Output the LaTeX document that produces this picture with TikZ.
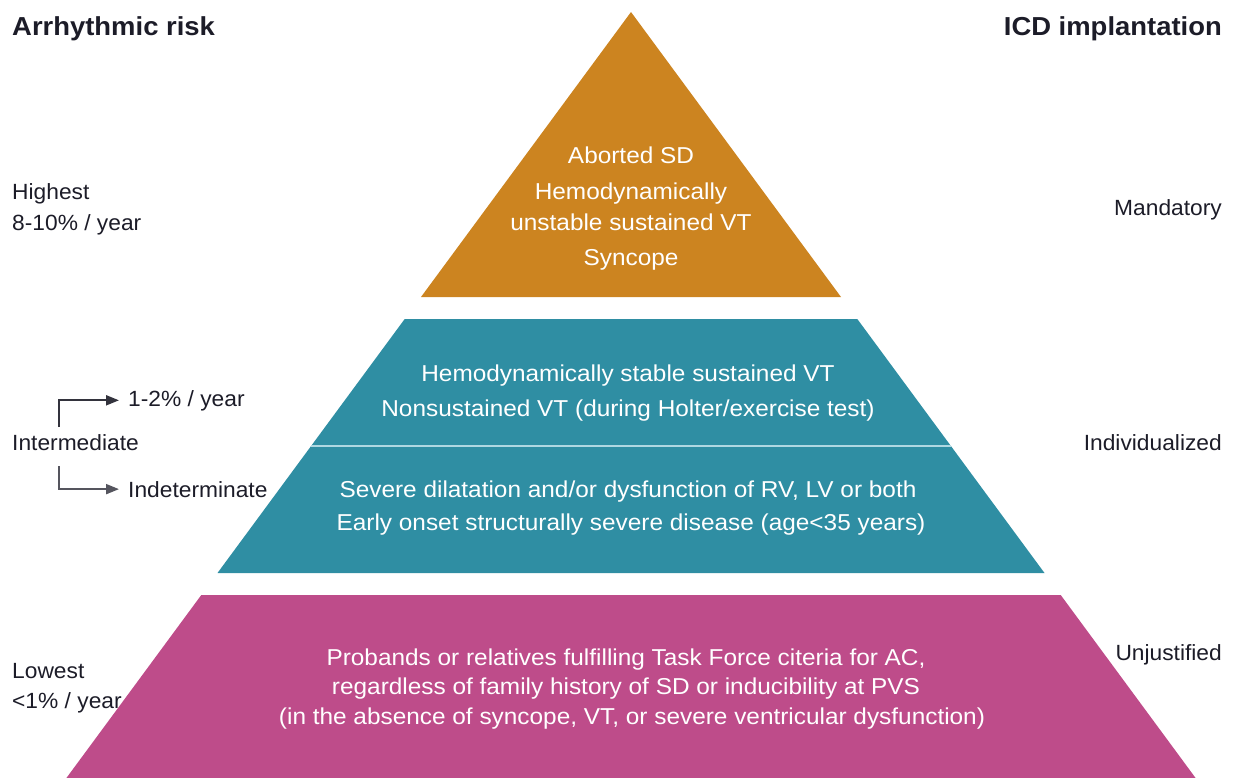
\documentclass[tikz,border=0pt]{standalone}
\usepackage{fontspec}
\setmainfont{Liberation Sans}
\newfontfamily\insidefont[FakeStretch=1.06]{Liberation Sans}
\newfontfamily\labfont[FakeStretch=1.035]{Liberation Sans}
\newfontfamily\headfont[FakeStretch=1.055]{Liberation Sans}
\usetikzlibrary{arrows.meta}
\definecolor{orangeT}{RGB}{204,132,32}
\definecolor{tealT}{RGB}{47,142,163}
\definecolor{magT}{RGB}{190,76,138}
\definecolor{divT}{RGB}{175,216,226}
\definecolor{txt}{RGB}{28,28,40}
\begin{document}
\begin{tikzpicture}[x=1pt,y=-1pt,
  lab/.style={font=\labfont\fontsize{22}{26}\selectfont, text=txt, inner sep=0pt, anchor=base west},
  labr/.style={font=\labfont\fontsize{22}{26}\selectfont, text=txt, inner sep=0pt, anchor=base east},
  head/.style={font=\headfont\fontsize{26}{30}\selectfont\bfseries, text=txt, inner sep=0pt},
  inside/.style={font=\insidefont\fontsize{23}{27}\selectfont, text=white, inner sep=0pt, anchor=base},
  conn/.style={draw=txt!90, line width=2pt, -{Triangle[length=13pt,width=10pt]}, shorten >=9pt}]
\useasboundingbox (0,0) rectangle (1233,778);
\begin{scope}
\clip (0,0) rectangle (1233,778);
% pyramid tiers
\fill[orangeT] (631,12) -- (841,297) -- (421,297) -- cycle;
\fill[tealT] (404.7,319) -- (857.3,319) -- (1044.5,573) -- (217.5,573) -- cycle;
\draw[divT, line width=2.2pt] (311.1,446) -- (950.9,446);
\fill[magT] (201.3,595) -- (1060.7,595) -- (1200,784) -- (62,784) -- cycle;
\end{scope}
% headings
\node[head, anchor=base west] (hrisk) at (12,36) {Arrhythmic risk};
\node[head, anchor=base east] (hicd) at (1222,36) {ICD implantation};
% left labels
\node[lab] (high1) at (12,200) {Highest};
\node[lab] (high2) at (12,230) {8-10\% / year};
\node[lab] (r12) at (128,406) {1-2\% / year};
\node[lab] (inter) at (12,450) {Intermediate};
\node[lab] (indet) at (128,497) {Indeterminate};
\node[lab] (low1) at (12,678) {Lowest};
\node[lab] (low2) at (12,708) {<1\% / year};
% right labels
\node[labr] (mand) at (1222,215) {Mandatory};
\node[labr] (indiv) at (1222,450) {Individualized};
\node[labr] (unj) at (1222,660) {Unjustified};
% connectors
\coordinate (upstart) at (59,427);
\coordinate (downstart) at (59,466);
\draw[conn] (upstart) |- (r12.west);
\draw[conn, draw=txt!75] (downstart) |- (indet.west);
% top tier text
\node[inside] (t1) at (631,164) {Aborted SD};
\node[inside] (t2) at (631,200) {Hemodynamically};
\node[inside] (t3) at (631,230) {unstable sustained VT};
\node[inside] (t4) at (631,265) {Syncope};
% middle tier text
\node[inside] (m1) at (628,381) {Hemodynamically stable sustained VT};
\node[inside] (m2) at (628,416) {Nonsustained VT (during Holter/exercise test)};
\node[inside] (m3) at (628,497) {Severe dilatation and/or dysfunction of RV, LV or both};
\node[inside] (m4) at (631,530) {Early onset structurally severe disease (age<35 years)};
% bottom tier text
\node[inside] (b1) at (626,665) {Probands or relatives fulfilling Task Force citeria for AC,};
\node[inside] (b2) at (626,694) {regardless of family history of SD or inducibility at PVS};
\node[inside] (b3) at (632,724) {(in the absence of syncope, VT, or severe ventricular dysfunction)};
\end{tikzpicture}
\end{document}
